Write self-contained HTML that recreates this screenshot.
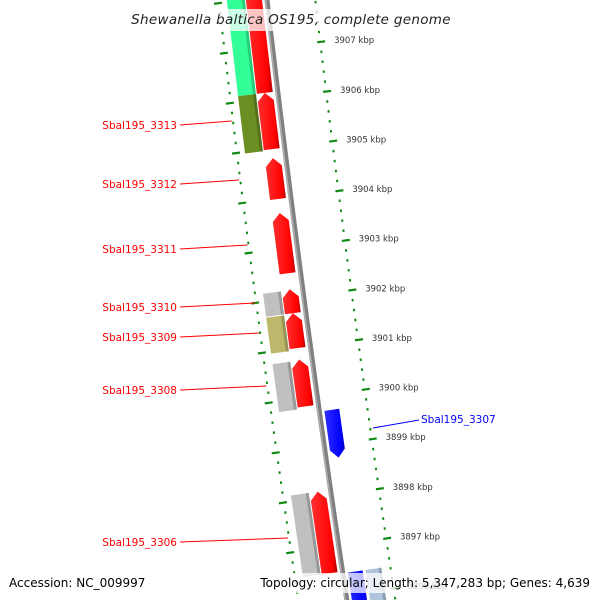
<!DOCTYPE html>
<html><head><meta charset="utf-8"><style>
html,body{margin:0;padding:0;background:#fff;overflow:hidden;width:600px;height:600px}
svg{display:block}
text{font-family:"DejaVu Sans","Liberation Sans",sans-serif}
</style></head><body>
<svg id="map" width="600" height="600" viewBox="0 0 600 600" xmlns="http://www.w3.org/2000/svg">
<defs>
<linearGradient id="gr" x1="0" x2="1" y1="0" y2="0"><stop offset="0" stop-color="#ff3030"/><stop offset="0.8" stop-color="#ff0000"/><stop offset="1" stop-color="#b00000"/></linearGradient>
<linearGradient id="gb" x1="0" x2="1" y1="0" y2="0"><stop offset="0" stop-color="#3030ff"/><stop offset="0.8" stop-color="#0000ff"/><stop offset="1" stop-color="#0000b0"/></linearGradient>
<clipPath id="clip"><rect x="0" y="0" width="600" height="600"/></clipPath>
</defs>
<g id="layer" clip-path="url(#clip)"></g>
</svg>
<script>
// Data
const tickKbp = [3908, 3907, 3906, 3905, 3904, 3903, 3902, 3901, 3900, 3899, 3898, 3897, 3896];
const fwdStart = [3908.4, 3906.12, 3904.81, 3903.71, 3902.18, 3901.70, 3900.77, 3898.12];
const fwdEnd   = [3906.12, 3904.99, 3903.99, 3902.50, 3901.70, 3901.00, 3899.83, 3896.48];
const revStart = [3899.69, 3896.44];
const revEnd   = [3898.73, 3895.5];
const cogStart = [3908.4, 3906.12, 3902.16, 3901.68, 3900.75, 3898.12];
const cogEnd   = [3906.12, 3904.97, 3901.70, 3900.96, 3899.79, 3896.48];
const cogColor = ["#33ff99", "#6b8e23", "#c0c0c0", "#bdb76b", "#c0c0c0", "#c0c0c0"];
const revCogStart = [3896.44];
const revCogEnd = [3895.5];
const revCogColor = ["#b0c4de"];
const geneLabels = ["Sbal195_3313","Sbal195_3312","Sbal195_3311","Sbal195_3310","Sbal195_3309","Sbal195_3308","Sbal195_3306"];
const geneLabelY = [125, 184, 249, 307, 337, 390, 542];
const revLabels = ["Sbal195_3307"];
const revLabelY = [419];

const svg = document.getElementById('layer');
const NS = "http://www.w3.org/2000/svg";
function yOf(k){ return 47.5 + (3907 - k) * 49.8; }
function bx(y){ return 267 + 0.115*y + 0.00003*y*y; }
function slope(y){ return 0.115 + 0.00006*y; }
function P(k, d){
  const y = yOf(k), s = slope(y), n = Math.sqrt(1+s*s);
  return [bx(y) + d/n, y - d*s/n];
}
function kAtY(y){ return 3907 - (y-47.5)/49.8; }
function el(tag, attrs, name){
  const e = document.createElementNS(NS, tag);
  for (const a in attrs) e.setAttribute(a, attrs[a]);
  
  
  svg.appendChild(e);
  return e;
}
function pts(a){ return a.map(p=>p[0].toFixed(2)+','+p[1].toFixed(2)).join(' '); }
function block(k1,k2,d1,d2,fill,name){
  el('polygon',{points:pts([P(k1,d1),P(k1,d2),P(k2,d2),P(k2,d1)]),fill:fill},name);
  el('polygon',{points:pts([P(k1,d2-3),P(k1,d2),P(k2,d2),P(k2,d2-3)]),fill:'#000','fill-opacity':0.2},name+'-shade');
}
// backbone
let bb=[]; for(let k=3908.6;k>=3895;k-=0.1) bb.push(P(k,0));
el('polyline',{points:pts(bb),fill:'none',stroke:'#808080','stroke-width':5},'backbone');
el('polyline',{points:pts(bb.map(p=>[p[0]-1.5,p[1]])),fill:'none',stroke:'#b0b0b0','stroke-width':1.5},'backbone-highlight');
// tick rings
for(let k=3908.6;k>=3895;k-=0.2){
  const major = Math.abs(k-Math.round(k))<0.01;
  [-45,45].forEach(d=>{
    const side = d<0?'left':'right';
    if(major){
      const a=P(k,d), b=P(k,d+(d<0?-8:8));
      el('line',{x1:a[0],y1:a[1],x2:b[0],y2:b[1],stroke:'#138a13','stroke-width':2.2},'tick-major-'+side);
    } else {
      const a=P(k,d+(d<0?-2:2)), b=P(k,d+(d<0?-4:4));
      el('line',{x1:a[0],y1:a[1],x2:b[0],y2:b[1],stroke:'#138a13','stroke-width':2.5},'tick-minor-'+side);
    }
  });
}
tickKbp.forEach(k=>{
  const p=P(k,62);
  const t=el('text',{x:p[0],y:p[1]+3,'font-size':8.5,fill:'#333'},'tick-label-'+k);
  t.textContent=k+' kbp';
});
// cog track
cogStart.forEach((s,i)=>block(s,cogEnd[i],-40,-22,cogColor[i],'cog-feature-'+i));
revCogStart.forEach((s,i)=>block(s,revCogEnd[i],23,39,revCogColor[i],'rev-cog-feature-'+i));
// forward genes (tip at top = higher kbp)
const hk = 8/49.8;
fwdStart.forEach((s,i)=>{
  const k1=fwdEnd[i], k2=s, d1=-21, d2=-5, dm=-13;
  el('polygon',{points:pts([P(k1,d1),P(k1,d2),P(k2-hk,d2),P(k2,dm),P(k2-hk,d1)]),fill:'url(#gr)'},'forward-gene-'+i);
});
// reverse genes (tip at bottom)
revStart.forEach((s,i)=>{
  const k1=s,k2=revEnd[i],d1=5,d2=20,dm=12.5;
  el('polygon',{points:pts([P(k1,d1),P(k1,d2),P(k2+hk,d2),P(k2,dm),P(k2+hk,d1)]),fill:'url(#gb)'},'reverse-gene-'+i);
});
// labels
geneLabels.forEach((n,i)=>{
  const y=geneLabelY[i];
  const p=P(kAtY(y-4),-50);
  el('line',{x1:180,y1:y,x2:p[0],y2:y-4,stroke:'#ff0000','stroke-width':1},'label-line-'+n);
  const t=el('text',{x:177,y:y+4,'font-size':10.5,fill:'#ff0000','text-anchor':'end'},'gene-label-'+n);
  t.textContent=n;
});
revLabels.forEach((n,i)=>{
  const y=revLabelY[i];
  el('line',{x1:373,y1:y+9,x2:419,y2:y+1,stroke:'#0000ff','stroke-width':1},'label-line-'+n);
  const t=el('text',{x:421,y:y+4,'font-size':10.5,fill:'#0000ff'},'gene-label-'+n);
  t.textContent=n;
});
// overlays
el('rect',{x:0,y:9,width:600,height:22,fill:'#fff','fill-opacity':0.75},'title-band');
const ti=el('text',{x:291,y:24,'font-size':13.5,'font-style':'italic',fill:'#222','text-anchor':'middle','letter-spacing':0.3},'chart-title');
ti.textContent='Shewanella baltica OS195, complete genome';
el('rect',{x:0,y:573,width:600,height:20,fill:'#fff','fill-opacity':0.75},'footer-band');
const a1=el('text',{x:9,y:587,'font-size':12,fill:'#000'},'accession-text');
a1.textContent='Accession: NC_009997';
const a2=el('text',{x:590,y:587,'font-size':12,fill:'#000','text-anchor':'end'},'topology-text');
a2.textContent='Topology: circular; Length: 5,347,283 bp; Genes: 4,639';
</script>
</body></html>
